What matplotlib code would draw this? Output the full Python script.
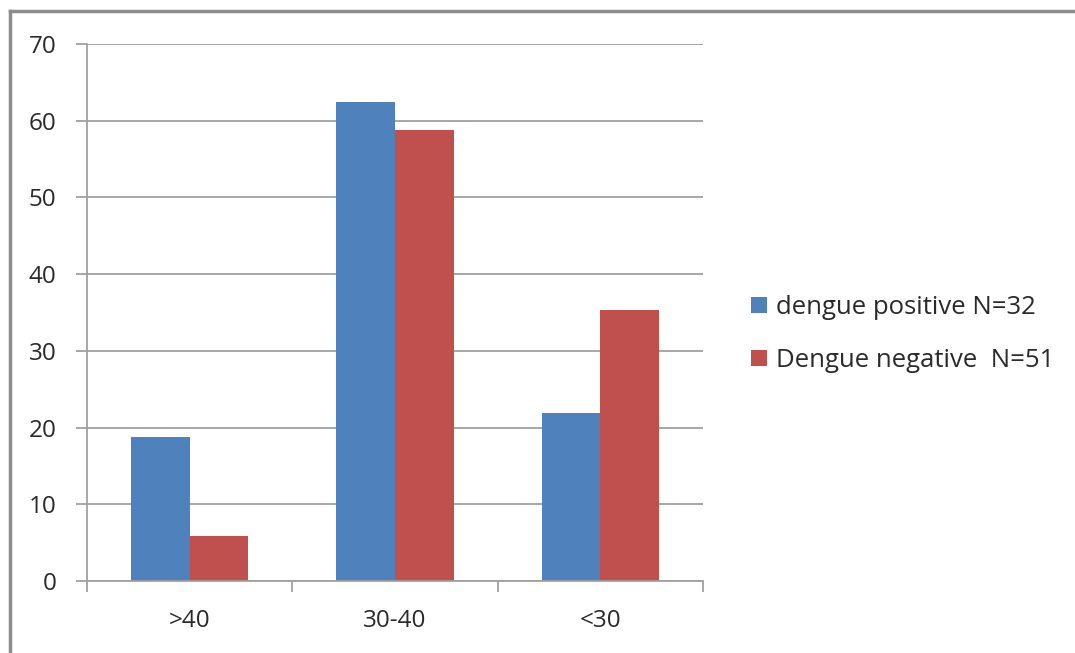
import matplotlib.pyplot as plt
from matplotlib.lines import Line2D
import numpy as np

categories = [">40", "30-40", "<30"]
positive = [18.75, 62.5, 21.88]
negative = [5.88, 58.82, 35.29]
labels = ["dengue positive N=32", "Dengue negative  N=51"]
colors = ["#4F81BD", "#C0504D"]

plt.rcParams['font.family'] = ['Open Sans', 'DejaVu Sans']

fig = plt.figure(figsize=(10.75, 6.53), dpi=100)
ax = fig.add_axes([87 / 1075, 1 - 581 / 653, 616 / 1075, 537 / 653])

x = np.arange(len(categories))
w = 1 / 3.5
b1 = ax.bar(x - w / 2, positive, w, color=colors[0], label=labels[0], zorder=2)
b2 = ax.bar(x + w / 2, negative, w, color=colors[1], label=labels[1], zorder=2)

ax.set_xlim(-0.5, 2.5)
ax.set_ylim(0, 70)
ax.set_yticks(range(0, 71, 10))
ax.yaxis.grid(True, color="#a0a0a0", linewidth=1.3, zorder=0)
ax.set_axisbelow(True)

for s in ["top", "right"]:
    ax.spines[s].set_visible(False)
for s in ["left", "bottom"]:
    ax.spines[s].set_color("#a0a0a0")
    ax.spines[s].set_linewidth(1.3)

ax.set_xticks(x)
ax.set_xticklabels(categories)
ax.set_xticks([-0.5, 0.5, 1.5, 2.5], minor=True)
ax.tick_params(axis="x", which="major", length=0, pad=20, labelsize=17.5, colors="#2a2a2a")
ax.tick_params(axis="x", which="minor", length=8, color="#a0a0a0", width=1.3)
ax.tick_params(axis="y", length=8, color="#a0a0a0", width=1.3, labelsize=17.5, pad=14)
for t in ax.get_yticklabels():
    t.set_color("#2a2a2a")

leg = fig.legend(handles=[b1, b2], loc="upper left", bbox_to_anchor=(728 / 1075, 1 - 272 / 653),
                 frameon=False, fontsize=18.5, handlelength=0.6, handleheight=0.6,
                 handletextpad=0.35, labelspacing=1.1)
for t in leg.get_texts():
    t.set_color("#2a2a2a")

# border along the top and left edges only
fig.add_artist(Line2D([10 / 1075, 1], [1 - 11 / 653, 1 - 11 / 653], transform=fig.transFigure,
                      color="#8c8c8c", linewidth=2.5))
fig.add_artist(Line2D([10 / 1075, 10 / 1075], [0, 1 - 11 / 653], transform=fig.transFigure,
                      color="#8c8c8c", linewidth=2.5))

fig.savefig("out.png", dpi=100)
